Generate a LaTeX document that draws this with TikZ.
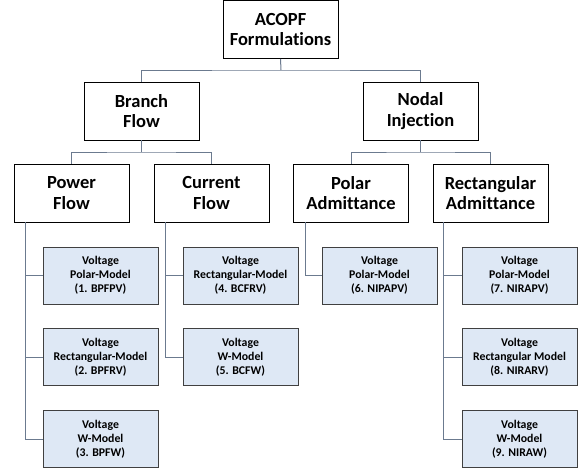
\documentclass[tikz,border=0pt]{standalone}
\usepackage{fontspec}
\setmainfont{Carlito}[Ligatures=NoCommon]
\usepackage{tikz}
\definecolor{linkgray}{HTML}{6B7A8F}
\definecolor{leafblue}{HTML}{DEE8F5}
\definecolor{leafline}{HTML}{404040}

\begin{document}
\begin{tikzpicture}[x=1pt,y=1pt,line width=0.8pt]
\tikzstyle{topbox}=[draw=black, fill=white, minimum width=115pt, minimum height=58pt, inner sep=1pt, align=center, font=\fontsize{18.5}{20.5}\selectfont\bfseries]
\tikzstyle{leafbox}=[draw=leafline, fill=leafblue, minimum width=115pt, minimum height=57pt, inner sep=1pt, align=center, font=\fontsize{11.8}{14}\selectfont\bfseries]
\tikzstyle{link}=[draw=linkgray, line width=1pt]
\useasboundingbox (0,0) rectangle (585,-472);
% levels 0 and 1
\node[topbox] (acopf) at (280.5,-29.5) {ACOPF\\Formulations};
\node[topbox] (branch) at (141.5,-111) {Branch\\Flow};
\node[topbox] (nodal) at (420.5,-111) {Nodal\\Injection};
% level 2
\node[topbox] (pf) at (71.5,-193) {Power\\Flow};
\node[topbox] (cf) at (211.5,-193) {Current\\Flow};
\node[topbox] (pa) at (351,-193) {Polar\\Admittance};
\node[topbox] (ra) at (490.5,-193) {Rectangular\\Admittance};
% leaves
\node[leafbox] (l1) at (100.5,-275.5) {Voltage\\Polar-Model\\(1. BPFPV)};
\node[leafbox] (l2) at (100.5,-357) {Voltage\\Rectangular-Model\\(2. BPFRV)};
\node[leafbox] (l3) at (100.5,-439) {Voltage\\W-Model\\(3. BPFW)};
\node[leafbox] (l4) at (240.5,-275.5) {Voltage\\Rectangular-Model\\(4. BCFRV)};
\node[leafbox] (l5) at (240.5,-357) {Voltage\\W-Model\\(5. BCFW)};
\node[leafbox] (l6) at (379.5,-275.5) {Voltage\\Polar-Model\\(6. NIPAPV)};
\node[leafbox] (l7) at (519.5,-275.5) {Voltage\\Polar-Model\\(7. NIRAPV)};
\node[leafbox] (l8) at (519.5,-357) {Voltage\\Rectangular Model\\(8. NIRARV)};
\node[leafbox] (l9) at (519.5,-439) {Voltage\\W-Model\\(9. NIRAW)};
% buses
\coordinate (bus0) at (281,-70);
\coordinate (bus1) at (141.5,-152);
\coordinate (bus2) at (420.5,-152);
\draw[link] (acopf.south) -- (bus0);
\draw[link] (branch.north) |- (bus0) -| (nodal.north);
\draw[link] (branch.south) -- (bus1);
\draw[link] (pf.north) |- (bus1) -| (cf.north);
\draw[link] (nodal.south) -- (bus2);
\draw[link] (pa.north) |- (bus2) -| (ra.north);
% rails down to the leaves
\coordinate (pfrail) at ([xshift=12pt]pf.south west);
\coordinate (cfrail) at ([xshift=12pt]cf.south west);
\coordinate (parail) at ([xshift=12pt]pa.south west);
\coordinate (rarail) at ([xshift=11pt]ra.south west);
\draw[link] (pfrail) |- (l1.west);
\draw[link] (pfrail) |- (l2.west);
\draw[link] (pfrail) |- (l3.west);
\draw[link] (cfrail) |- (l4.west);
\draw[link] (cfrail) |- (l5.west);
\draw[link] (parail) |- (l6.west);
\draw[link] (rarail) |- (l7.west);
\draw[link] (rarail) |- (l8.west);
\draw[link] (rarail) |- (l9.west);
\end{tikzpicture}
\end{document}
